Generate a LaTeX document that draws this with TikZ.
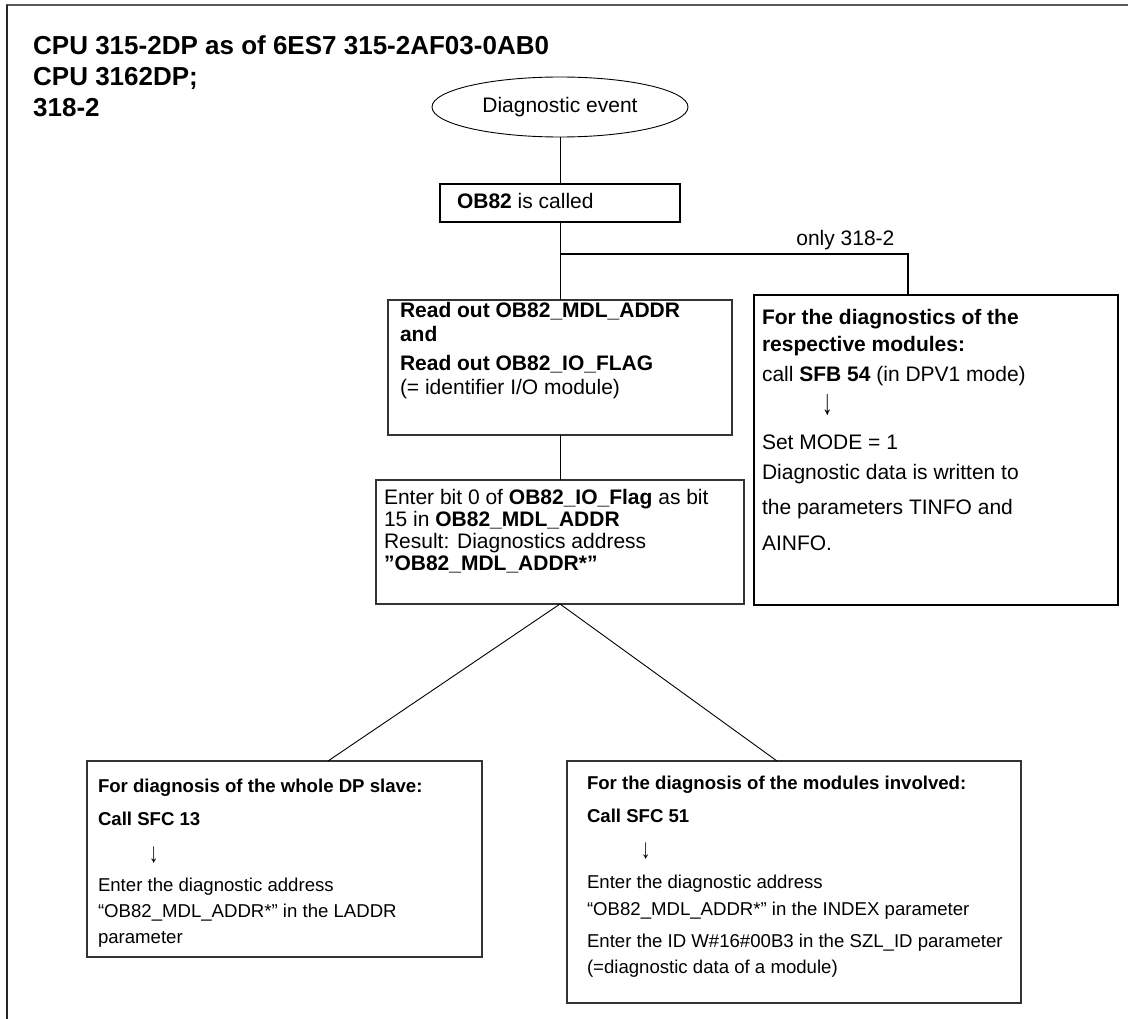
\documentclass[tikz,border=0pt]{standalone}
\usepackage{fontspec}
\setmainfont{Liberation Sans}
\usetikzlibrary{shapes.geometric,calc}

\begin{document}
\begin{tikzpicture}[
    x=1pt, y=-1pt,
    font=\fontsize{21}{24}\selectfont,
    box/.style={draw=black!80, line width=1.1pt, anchor=north west,
                inner sep=0pt, outer sep=0pt},
    heavy/.style={box, draw=black, line width=2.4pt},
    small/.style={font=\fontsize{18.6}{26}\selectfont},
    conn/.style={line width=0.9pt},
    branch/.style={line width=2.2pt},
  ]
    \useasboundingbox (0,0) rectangle (1128,1019);

    % Page frame
    \draw[line width=2.4pt, black!65] (6,5) -- (1128,5);
    \draw[line width=1.4pt, black!85] (7,5) -- (7,1019);

    % Title
    \node[anchor=base west, inner sep=0pt, font=\bfseries\fontsize{26}{31}\selectfont] (title) at (33,55)
        {\parbox[t]{700pt}{CPU 315-2DP as of 6ES7 315-2AF03-0AB0\\CPU 3162DP;\\318-2}};

    % Event and call
    \node[ellipse, draw, line width=0.9pt, minimum width=256pt, minimum height=60pt, inner sep=0pt]
        (event) at (560,107) {Diagnostic event};
    \node[box, draw=black, text height=25pt, text depth=13pt] (called) at (440,184)
        {\parbox[t]{240pt}{\leftskip=17pt \textbf{OB82} is called}};

    % Read out
    \node[box, text height=18pt, text depth=117pt] (read) at (388,300)
        {\parbox[t]{344pt}{\leftskip=12pt \textbf{Read out OB82\_MDL\_ADDR}\\
         \textbf{and}\\[5pt]
         \textbf{Read out OB82\_IO\_FLAG}\\
         (= identifier I/O module)}};

    % DPV1 branch
    \node[heavy, text height=30pt, text depth=280pt, font=\fontsize{21}{27}\selectfont] (sfb) at (754,295)
        {\parbox[t]{364pt}{\leftskip=8pt \textbf{For the diagnostics of the}\\
         \textbf{respective modules:}\\[3pt]
         call \textbf{SFB 54} (in DPV1 mode)\\[6pt]
         \hspace*{60pt}\scalebox{1}[1.7]{↓}\\[8pt]
         Set MODE = 1\\[3pt]
         Diagnostic data is written to\\[8pt]
         the parameters TINFO and\\[9pt]
         AINFO.}};

    % Diagnostics address
    \node[box, text height=24pt, text depth=100pt, font=\fontsize{21}{22}\selectfont] (bit) at (376,480)
        {\parbox[t]{368pt}{\leftskip=8pt Enter bit 0 of \textbf{OB82\_IO\_Flag} as bit\\
         15 in \textbf{OB82\_MDL\_ADDR}\\
         Result: Diagnostics address\\
         \textbf{”OB82\_MDL\_ADDR*”}}};

    % Slave and modules
    \node[box, small, text height=31pt, text depth=165pt] (slave) at (87,761)
        {\parbox[t]{395pt}{\leftskip=11pt \textbf{For diagnosis of the whole DP slave:}\\[7pt]
         \textbf{Call SFC 13}\\[11pt]
         \hspace*{51pt}\scalebox{1}[1.5]{↓}\\[3pt]
         Enter the diagnostic address\\
         “OB82\_MDL\_ADDR*” in the LADDR\\
         parameter}};
    \node[box, small, text height=28pt, text depth=214pt] (modules) at (567,761)
        {\parbox[t]{454pt}{\leftskip=20pt \textbf{For the diagnosis of the modules involved:}\\[7pt]
         \textbf{Call SFC 51}\\[10pt]
         \hspace*{54pt}\scalebox{1}[1.5]{↓}\\[4pt]
         Enter the diagnostic address\\[1pt]
         “OB82\_MDL\_ADDR*” in the INDEX parameter\\[6pt]
         Enter the ID W\#16\#00B3 in the SZL\_ID parameter\\
         (=diagnostic data of a module)}};

    % Connectors
    \coordinate (split) at (560,254);
    \draw[conn] (event) -- (called);
    \draw[conn] (called) -- (read);
    \draw[branch] (split) -| node[pos=0.41, above=3pt, inner sep=0pt] (only) {only 318-2}
        ([xshift=-28pt]sfb.north);
    \draw[conn] (read) -- (bit);
    \draw[conn] (bit.south) -- ([xshift=43.5pt]slave.north);
    \draw[conn] (bit.south) -- ([xshift=-17pt]modules.north);
\end{tikzpicture}
\end{document}
